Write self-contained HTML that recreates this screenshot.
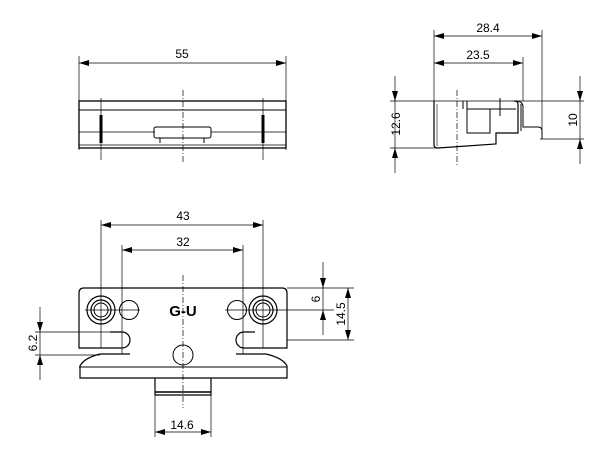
<!DOCTYPE html>
<html><head><style>body{margin:0;background:#fff}svg{display:block}text{font-family:"Liberation Sans",sans-serif;font-size:12px;fill:#000}</style></head><body>
<svg width="611" height="466" viewBox="0 0 611 466" xmlns="http://www.w3.org/2000/svg">
<defs>
<marker id="a" viewBox="0 0 10 6" refX="10" refY="3" markerWidth="10" markerHeight="6" orient="auto-start-reverse" markerUnits="userSpaceOnUse"><path d="M0,0L10,3L0,6z" fill="#000"/></marker>
</defs>
<g stroke="#000" stroke-width="1" fill="none">
<!-- TOP VIEW -->
<line x1="79" y1="56" x2="79" y2="150" stroke-width="0.7"/>
<line x1="286" y1="56" x2="286" y2="150" stroke-width="0.7"/>
<line x1="79" y1="63" x2="286" y2="63" marker-start="url(#a)" marker-end="url(#a)" stroke-width="0.7"/>
<rect x="79" y="101" width="207" height="47" stroke-width="1.3"/>
<line x1="79" y1="110" x2="286" y2="110"/>
<line x1="79" y1="132" x2="155" y2="132" stroke-width="0.7"/>
<line x1="211" y1="132" x2="286" y2="132" stroke-width="0.7"/>
<line x1="79" y1="145" x2="286" y2="145" stroke-width="0.7"/>
<rect x="154" y="127" width="57" height="11" rx="2"/>
<path d="M160,138 v5 M204,138 v5"/>
<line x1="101" y1="98" x2="101" y2="160" stroke-width="0.7"/>
<line x1="263" y1="98" x2="263" y2="160" stroke-width="0.7"/>
<line x1="101" y1="115" x2="101" y2="143" stroke-width="3"/>
<line x1="263" y1="115" x2="263" y2="143" stroke-width="3"/>
<line x1="183" y1="90" x2="183" y2="162" stroke-dasharray="6,2,1,2" stroke-width="0.7"/>
<!-- SIDE VIEW -->
<line x1="434" y1="30" x2="434" y2="101" stroke-width="0.7"/>
<line x1="542" y1="30" x2="542" y2="139" stroke-width="0.7"/>
<line x1="523" y1="57" x2="523" y2="101" stroke-width="0.7"/>
<line x1="434" y1="36" x2="542" y2="36" marker-start="url(#a)" marker-end="url(#a)" stroke-width="0.7"/>
<line x1="434" y1="63" x2="523" y2="63" marker-start="url(#a)" marker-end="url(#a)" stroke-width="0.7"/>
<line x1="390" y1="101" x2="584" y2="101" stroke-width="0.7"/>
<line x1="390" y1="148" x2="440" y2="148" stroke-width="0.7"/>
<line x1="395" y1="76" x2="395" y2="101" marker-end="url(#a)" stroke-width="0.7"/>
<line x1="395" y1="101" x2="395" y2="148" stroke-width="0.7"/>
<line x1="395" y1="173" x2="395" y2="148" marker-end="url(#a)" stroke-width="0.7"/>
<line x1="540" y1="139" x2="584" y2="139" stroke-width="0.7"/>
<line x1="580" y1="76" x2="580" y2="101" marker-end="url(#a)" stroke-width="0.7"/>
<line x1="580" y1="101" x2="580" y2="139" stroke-width="0.7"/>
<line x1="580" y1="164" x2="580" y2="139" marker-end="url(#a)" stroke-width="0.7"/>
<path d="M434,101 V145 Q434,148 438,148 L496,144 V133 H518 V104 Q518,101 514,101" stroke-width="1.2"/>
<line x1="437" y1="104" x2="437" y2="146" stroke-width="0.6"/>
<rect x="467" y="109" width="23" height="24" stroke-width="1"/>
<path d="M467,109 H516 M463,101 v8 M467,101 v8 M500,98 v18"/>
<path d="M516,101 Q522,101 523,106 V127 H538 Q542,127 542,131 V139"/>
<path d="M521,104 V131"/>
<line x1="457" y1="90" x2="457" y2="165" stroke-dasharray="6,2,1,2" stroke-width="0.7"/>
<!-- BOTTOM VIEW -->
<path d="M84,288 H282 Q287,288 287,293 V348 H244 A8,8 0 0 1 244,332 H255" stroke-width="1.2"/>
<path d="M84,288 Q79,288 79,293 V348 H122 A8,8 0 0 0 122,332 H110" stroke-width="1.2"/>
<path d="M79,348 v0 M100,354 Q84,358 80,366 V378 H287 V366 Q283,358 266,354 M100,354 H130 M236,354 H266" stroke-width="1.2"/>
<line x1="79" y1="367" x2="287" y2="367"/>
<path d="M155,378 V395 H211 V378" stroke-width="1.2"/>
<line x1="155" y1="392" x2="211" y2="392" stroke-width="1.5"/>
<circle cx="101" cy="310" r="14" stroke-width="1.2"/><circle cx="101" cy="310" r="10" stroke-width="1.2"/><circle cx="101" cy="310" r="7"/>
<circle cx="263" cy="310" r="14" stroke-width="1.2"/><circle cx="263" cy="310" r="10" stroke-width="1.2"/><circle cx="263" cy="310" r="7"/>
<circle cx="129" cy="310" r="9.5"/><circle cx="237" cy="310" r="9.5"/>
<circle cx="183" cy="355" r="10"/>
<line x1="183" y1="275" x2="183" y2="408" stroke-dasharray="6,2,1,2" stroke-width="0.7"/>
<line x1="85" y1="310" x2="140" y2="310" stroke-width="0.7"/>
<line x1="225" y1="310" x2="334" y2="310" stroke-width="0.7"/>
<line x1="101" y1="220" x2="101" y2="348" stroke-width="0.7"/>
<line x1="263" y1="220" x2="263" y2="348" stroke-width="0.7"/>
<line x1="122" y1="245" x2="122" y2="354" stroke-width="0.7"/>
<line x1="243" y1="245" x2="243" y2="354" stroke-width="0.7"/>
<line x1="101" y1="225" x2="263" y2="225" marker-start="url(#a)" marker-end="url(#a)" stroke-width="0.7"/>
<line x1="122" y1="250" x2="243" y2="250" marker-start="url(#a)" marker-end="url(#a)" stroke-width="0.7"/>
<line x1="287" y1="288" x2="354" y2="288" stroke-width="0.7"/>
<line x1="287" y1="340" x2="354" y2="340" stroke-width="0.7"/>
<line x1="323" y1="262" x2="323" y2="288" marker-end="url(#a)" stroke-width="0.7"/>
<line x1="323" y1="288" x2="323" y2="310" stroke-width="0.7"/>
<line x1="323" y1="335" x2="323" y2="310" marker-end="url(#a)" stroke-width="0.7"/>
<line x1="348" y1="288" x2="348" y2="340" marker-start="url(#a)" marker-end="url(#a)" stroke-width="0.7"/>
<line x1="35" y1="332" x2="122" y2="332" stroke-width="0.7"/>
<line x1="35" y1="355" x2="100" y2="355" stroke-width="0.7"/>
<line x1="40" y1="307" x2="40" y2="332" marker-end="url(#a)" stroke-width="0.7"/>
<line x1="40" y1="332" x2="40" y2="355" stroke-width="0.7"/>
<line x1="40" y1="380" x2="40" y2="355" marker-end="url(#a)" stroke-width="0.7"/>
<line x1="155" y1="395" x2="155" y2="437" stroke-width="0.7"/>
<line x1="211" y1="395" x2="211" y2="437" stroke-width="0.7"/>
<line x1="155" y1="432" x2="211" y2="432" marker-start="url(#a)" marker-end="url(#a)" stroke-width="0.7"/>
</g>
<text x="182" y="58" text-anchor="middle">55</text>
<text x="488" y="32" text-anchor="middle">28.4</text>
<text x="478" y="59" text-anchor="middle">23.5</text>
<text transform="translate(400,124) rotate(-90)" text-anchor="middle">12.6</text>
<text transform="translate(577,120) rotate(-90)" text-anchor="middle">10</text>
<text x="183" y="220" text-anchor="middle">43</text>
<text x="183" y="246" text-anchor="middle">32</text>
<text transform="translate(320,299) rotate(-90)" text-anchor="middle">6</text>
<text transform="translate(345,314) rotate(-90)" text-anchor="middle">14.5</text>
<text transform="translate(37,343) rotate(-90)" text-anchor="middle">6.2</text>
<text x="182" y="429" text-anchor="middle">14.6</text>
<text x="183" y="316" text-anchor="middle" style="font-weight:bold;font-size:15px">G-U</text>
</svg>
</body></html>
